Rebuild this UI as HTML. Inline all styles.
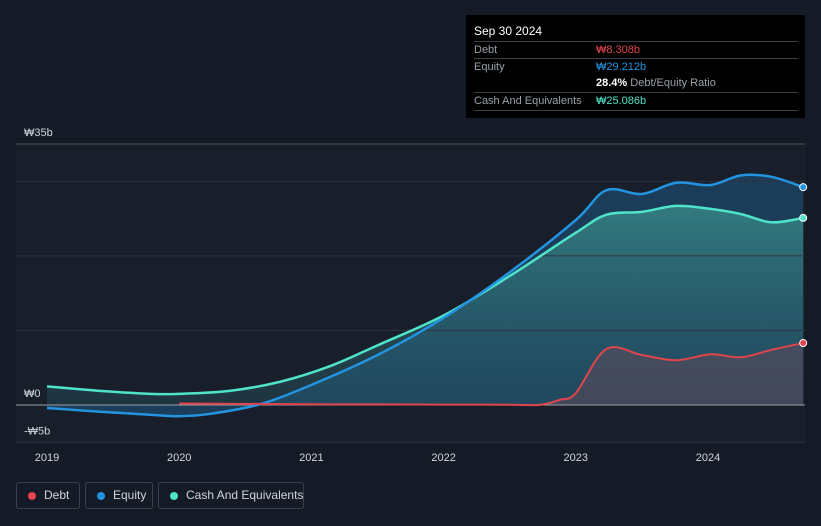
<!DOCTYPE html>
<html><head><meta charset="utf-8"><style>
body{margin:0;background:#151b26;font-family:"Liberation Sans",sans-serif;}
#wrap{position:relative;width:821px;height:526px;overflow:hidden;background:#151b26}
.tt{position:absolute;left:466px;top:15px;width:339px;height:103px;background:#000;color:#fff;font-size:11px}
.row{position:absolute;left:8px;width:324px;border-top:1px solid #3a3f47;height:17px;line-height:17px}
.lab{color:#9aa0a8;position:absolute;left:0}
.val{position:absolute;left:122px}
.leg{position:absolute;top:482px;height:27px;border:1px solid #3a414d;border-radius:3px;color:#d0d4da;font-size:12px;line-height:25px;padding:0 0 0 27px;box-sizing:border-box;white-space:nowrap}
.dot{position:absolute;left:11px;top:9px;width:8px;height:8px;border-radius:50%}
</style></head><body>
<div id="wrap">
<svg id="chart" width="821" height="526" style="position:absolute;left:0;top:0"></svg>
<div class="tt">
 <div style="position:absolute;left:8px;top:9px;font-size:12px">Sep 30 2024</div>
 <div class="row" style="top:26px"><span class="lab">Debt</span><span class="val" style="color:#e0444d">₩8.308b</span></div>
 <div class="row" style="top:43px"><span class="lab">Equity</span><span class="val" style="color:#2394df">₩29.212b</span></div>
 <div class="row" style="top:60px;border-top:none"><span class="val"><b>28.4%</b> <span style="color:#9aa0a8">Debt/Equity Ratio</span></span></div>
 <div class="row" style="top:77px;border-bottom:1px solid #3a3f47"><span class="lab">Cash And Equivalents</span><span class="val" style="color:#4fe3c9">₩25.086b</span></div>
</div>
<div class="leg" style="left:16px;width:64px"><span class="dot" style="background:#e0444d"></span>Debt</div>
<div class="leg" style="left:85px;width:68px"><span class="dot" style="background:#2394df"></span>Equity</div>
<div class="leg" style="left:158px;width:146px"><span class="dot" style="background:#4fe3c9"></span>Cash And Equivalents</div>
</div>
<script>
const eqT=[2019,2019.4,2019.78,2020,2020.23,2020.61,2021,2021.5,2022,2022.5,2023,2023.23,2023.5,2023.76,2024.02,2024.25,2024.48,2024.72];
const eqV=[-0.4,-0.9,-1.3,-1.5,-1.2,0.1,2.7,6.7,11.7,17.8,24.8,28.8,28.3,29.8,29.5,30.8,30.6,29.212];
const cashT=[2019,2019.4,2019.78,2020,2020.38,2020.76,2021.14,2021.5,2022,2022.5,2023,2023.23,2023.5,2023.76,2024.02,2024.25,2024.48,2024.72];
const cashV=[2.5,1.9,1.5,1.5,1.9,3.1,5.2,8.0,12.0,17.3,23.1,25.5,25.9,26.7,26.3,25.6,24.5,25.086];
const debtT=[2020,2020.5,2021,2021.5,2022,2022.5,2022.73,2022.88,2023,2023.23,2023.5,2023.76,2024.02,2024.25,2024.48,2024.72];
const debtV=[0.2,0.15,0.1,0.08,0.05,0.03,0.02,0.7,1.6,7.5,6.7,6.0,6.8,6.4,7.4,8.308];
const yTicks=[35,0,-5];const yTickLabels=["₩35b","₩0","-₩5b"];
const gridVals=[35,30,20,10];
const xTicks=[2019,2020,2021,2022,2023,2024];
const X=t=>47+(t-2019)*132.2, Y=v=>405-v*7.457;
const svg=document.getElementById('chart');const NS='http://www.w3.org/2000/svg';
function mk(tag,at,name){const e=document.createElementNS(NS,tag);for(const k in at)e.setAttribute(k,at[k]);


svg.appendChild(e);return e;}
function curve(T,V){const p=T.map((t,i)=>[X(t),Y(V[i])]);let d=`M${p[0][0]},${p[0][1]}`;
for(let i=0;i<p.length-1;i++){const a=p[i-1]||p[i],b=p[i],c=p[i+1],e=p[i+2]||c;
d+=` C${b[0]+(c[0]-a[0])/6},${b[1]+(c[1]-a[1])/6} ${c[0]-(e[0]-b[0])/6},${c[1]-(e[1]-b[1])/6} ${c[0]},${c[1]}`;}return d;}
mk('rect',{x:16,y:144,width:789,height:298,fill:'#181f2b'},'plot-area');
const defs=mk('defs',{},'defs');
defs.innerHTML='<linearGradient id="gc" x1="0" y1="0" x2="0" y2="1"><stop offset="0" stop-color="#3a8f8c" stop-opacity="0.75"/><stop offset="1" stop-color="#2a5c68" stop-opacity="0.35"/></linearGradient>';
const eqD=curve(eqT,eqV),cashD=curve(cashT,cashV),debtD=curve(debtT,debtV);
mk('path',{d:eqD+` L${X(eqT[eqT.length-1])},${Y(0)} L${X(eqT[0])},${Y(0)}Z`,fill:'#1d4a6e','fill-opacity':0.7},'equity-area');
mk('path',{d:cashD+` L${X(cashT[cashT.length-1])},${Y(0)} L${X(cashT[0])},${Y(0)}Z`,fill:'url(#gc)'},'cash-area');
mk('path',{d:debtD+` L${X(debtT[debtT.length-1])},${Y(0)} L${X(debtT[0])},${Y(0)}Z`,fill:'#5a4a58','fill-opacity':0.6},'debt-area');
gridVals.forEach(v=>mk('line',{x1:16,x2:805,y1:Y(v),y2:Y(v),stroke:v==35?'#4a505a':'#2c333e','stroke-width':1},'gridline'));
mk('line',{x1:16,x2:805,y1:Y(0),y2:Y(0),stroke:'#9aa0a8','stroke-width':1},'zero-line');
mk('line',{x1:16,x2:805,y1:Y(-5),y2:Y(-5),stroke:'#2c333e','stroke-width':1},'bottom-line');
mk('path',{d:cashD,fill:'none',stroke:'#4fe3c9','stroke-width':2.5},'cash-line');
mk('path',{d:eqD,fill:'none',stroke:'#2394df','stroke-width':2.5},'equity-line');
mk('path',{d:debtD,fill:'none',stroke:'#e0444d','stroke-width':2},'debt-line');
[[eqT,eqV,'#2394df','equity-end-dot'],[cashT,cashV,'#4fe3c9','cash-end-dot'],[debtT,debtV,'#e0444d','debt-end-dot']].forEach(([T,V,c,n])=>{
mk('circle',{cx:X(T[T.length-1]),cy:Y(V[V.length-1]),r:3.5,fill:c,stroke:'#fff','stroke-width':1},n);});
yTicks.forEach((v,i)=>{const t=mk('text',{x:24,y:Y(v)-8,fill:'#d0d4da','font-size':11},'y-tick-label');t.textContent=yTickLabels[i];});
xTicks.forEach(v=>{const t=mk('text',{x:X(v),y:461,fill:'#d0d4da','font-size':11,'text-anchor':'middle'},'x-tick-label');t.textContent=v;});
</script>
</body></html>
